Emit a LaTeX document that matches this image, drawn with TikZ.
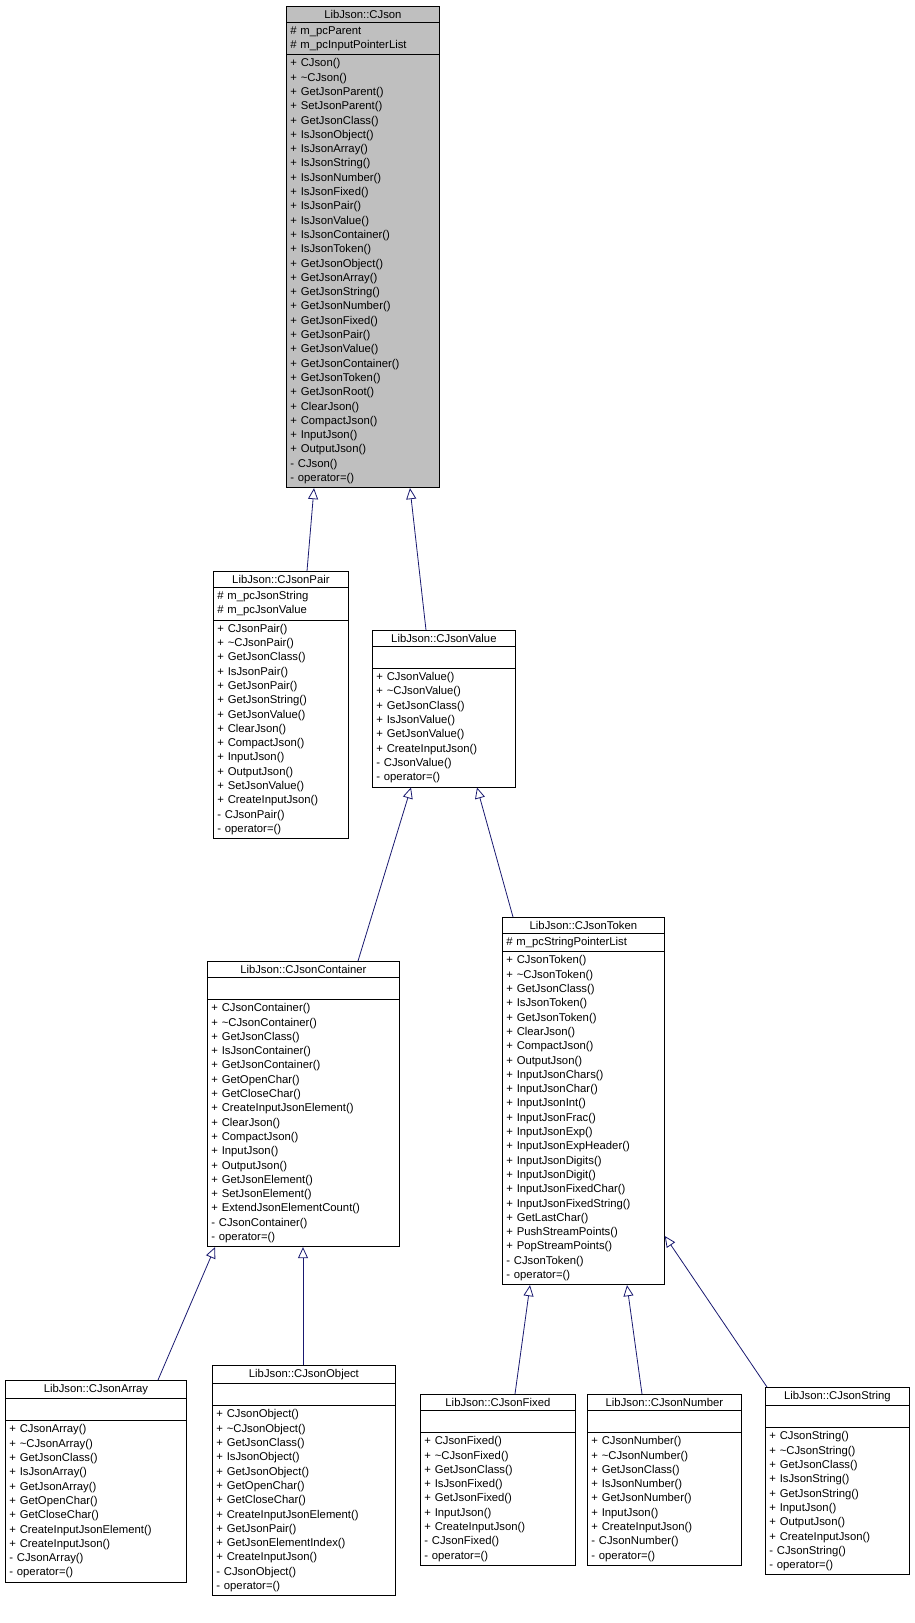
\documentclass[tikz,border=0pt]{standalone}
\usepackage{fontspec}
\setmainfont{Liberation Sans}
\usetikzlibrary{shapes.multipart,arrows.meta}
\definecolor{edgeblue}{RGB}{25,25,112}
\definecolor{boxgray}{RGB}{191,191,191}
\tikzset{
 cls/.style={draw, rectangle split, rectangle split parts=3, anchor=north west,
   inner xsep=4pt, inner ysep=3.5pt, line width=0.8pt, fill=white,
   font=\fontsize{11.3}{14.3}\selectfont, align=left},
 inh/.style={draw=edgeblue, line width=0.8pt, -{Triangle[open,length=11pt,width=10pt,fill=white]}}
}
\newcommand{\ttl}[1]{\centering #1\par}
\begin{document}
\begin{tikzpicture}[x=1pt,y=-1pt]
\useasboundingbox (0,0) rectangle (914,1623);
\node[cls, fill=boxgray, text width=145pt] (cjson) at (286,6) {\ttl{LibJson::CJson}
\nodepart{two}\# m\_pcParent\\\# m\_pcInputPointerList
\nodepart{three}+ CJson()\\+ \textasciitilde CJson()\\+ GetJsonParent()\\+ SetJsonParent()\\+ GetJsonClass()\\+ IsJsonObject()\\+ IsJsonArray()\\+ IsJsonString()\\+ IsJsonNumber()\\+ IsJsonFixed()\\+ IsJsonPair()\\+ IsJsonValue()\\+ IsJsonContainer()\\+ IsJsonToken()\\+ GetJsonObject()\\+ GetJsonArray()\\+ GetJsonString()\\+ GetJsonNumber()\\+ GetJsonFixed()\\+ GetJsonPair()\\+ GetJsonValue()\\+ GetJsonContainer()\\+ GetJsonToken()\\+ GetJsonRoot()\\+ ClearJson()\\+ CompactJson()\\+ InputJson()\\+ OutputJson()\\- CJson()\\- operator=()};
\node[cls, text width=127pt] (pair) at (213,571) {\ttl{LibJson::CJsonPair}
\nodepart{two}\# m\_pcJsonString\\\# m\_pcJsonValue
\nodepart{three}+ CJsonPair()\\+ \textasciitilde CJsonPair()\\+ GetJsonClass()\\+ IsJsonPair()\\+ GetJsonPair()\\+ GetJsonString()\\+ GetJsonValue()\\+ ClearJson()\\+ CompactJson()\\+ InputJson()\\+ OutputJson()\\+ SetJsonValue()\\+ CreateInputJson()\\- CJsonPair()\\- operator=()};
\node[cls, text width=135pt] (value) at (372,630) {\ttl{LibJson::CJsonValue}
\nodepart{two}\strut
\nodepart{three}+ CJsonValue()\\+ \textasciitilde CJsonValue()\\+ GetJsonClass()\\+ IsJsonValue()\\+ GetJsonValue()\\+ CreateInputJson()\\- CJsonValue()\\- operator=()};
\node[cls, text width=184pt] (container) at (207,961) {\ttl{LibJson::CJsonContainer}
\nodepart{two}\strut
\nodepart{three}+ CJsonContainer()\\+ \textasciitilde CJsonContainer()\\+ GetJsonClass()\\+ IsJsonContainer()\\+ GetJsonContainer()\\+ GetOpenChar()\\+ GetCloseChar()\\+ CreateInputJsonElement()\\+ ClearJson()\\+ CompactJson()\\+ InputJson()\\+ OutputJson()\\+ GetJsonElement()\\+ SetJsonElement()\\+ ExtendJsonElementCount()\\- CJsonContainer()\\- operator=()};
\node[cls, text width=154pt] (token) at (502,917) {\ttl{LibJson::CJsonToken}
\nodepart{two}\# m\_pcStringPointerList
\nodepart{three}+ CJsonToken()\\+ \textasciitilde CJsonToken()\\+ GetJsonClass()\\+ IsJsonToken()\\+ GetJsonToken()\\+ ClearJson()\\+ CompactJson()\\+ OutputJson()\\+ InputJsonChars()\\+ InputJsonChar()\\+ InputJsonInt()\\+ InputJsonFrac()\\+ InputJsonExp()\\+ InputJsonExpHeader()\\+ InputJsonDigits()\\+ InputJsonDigit()\\+ InputJsonFixedChar()\\+ InputJsonFixedString()\\+ GetLastChar()\\+ PushStreamPoints()\\+ PopStreamPoints()\\- CJsonToken()\\- operator=()};
\node[cls, text width=173pt] (array) at (5,1380) {\ttl{LibJson::CJsonArray}
\nodepart{two}\strut
\nodepart{three}+ CJsonArray()\\+ \textasciitilde CJsonArray()\\+ GetJsonClass()\\+ IsJsonArray()\\+ GetJsonArray()\\+ GetOpenChar()\\+ GetCloseChar()\\+ CreateInputJsonElement()\\+ CreateInputJson()\\- CJsonArray()\\- operator=()};
\node[cls, text width=175pt] (object) at (212,1365) {\ttl{LibJson::CJsonObject}
\nodepart{two}\strut
\nodepart{three}+ CJsonObject()\\+ \textasciitilde CJsonObject()\\+ GetJsonClass()\\+ IsJsonObject()\\+ GetJsonObject()\\+ GetOpenChar()\\+ GetCloseChar()\\+ CreateInputJsonElement()\\+ GetJsonPair()\\+ GetJsonElementIndex()\\+ CreateInputJson()\\- CJsonObject()\\- operator=()};
\node[cls, text width=147pt] (fixed) at (420,1394) {\ttl{LibJson::CJsonFixed}
\nodepart{two}\strut
\nodepart{three}+ CJsonFixed()\\+ \textasciitilde CJsonFixed()\\+ GetJsonClass()\\+ IsJsonFixed()\\+ GetJsonFixed()\\+ InputJson()\\+ CreateInputJson()\\- CJsonFixed()\\- operator=()};
\node[cls, text width=146pt] (number) at (587,1394) {\ttl{LibJson::CJsonNumber}
\nodepart{two}\strut
\nodepart{three}+ CJsonNumber()\\+ \textasciitilde CJsonNumber()\\+ GetJsonClass()\\+ IsJsonNumber()\\+ GetJsonNumber()\\+ InputJson()\\+ CreateInputJson()\\- CJsonNumber()\\- operator=()};
\node[cls, text width=136pt] (string) at (765,1387) {\ttl{LibJson::CJsonString}
\nodepart{two}\strut
\nodepart{three}+ CJsonString()\\+ \textasciitilde CJsonString()\\+ GetJsonClass()\\+ IsJsonString()\\+ GetJsonString()\\+ InputJson()\\+ OutputJson()\\+ CreateInputJson()\\- CJsonString()\\- operator=()};
\draw[inh] (307,0 |- pair.north) -- (314,0 |- cjson.south);
\draw[inh] (426,0 |- value.north) -- (410,0 |- cjson.south);
\draw[inh] (358,0 |- container.north) -- (411,0 |- value.south);
\draw[inh] (513,0 |- token.north) -- (477,0 |- value.south);
\draw[inh] (158,0 |- array.north) -- (215,0 |- container.south);
\draw[inh] (303,0 |- object.north) -- (303,0 |- container.south);
\draw[inh] (515,0 |- fixed.north) -- (530,0 |- token.south);
\draw[inh] (642,0 |- number.north) -- (627,0 |- token.south);
\draw[inh] (767,0 |- string.north) -- (token.east |- 0,1236);
\end{tikzpicture}
\end{document}
